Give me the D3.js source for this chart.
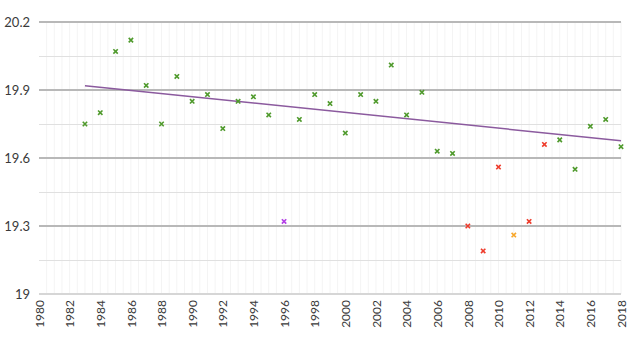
<!DOCTYPE html>
<html><head><meta charset="utf-8">
<script src="https://cdn.jsdelivr.net/npm/d3@7"></script>
<style>body{margin:0;background:#fff;}svg{display:block;font-family:Lato,"Open Sans",sans-serif;}</style>
</head><body><svg id="c" width="640" height="342"></svg>
<script>
const years = [1983,1984,1985,1986,1987,1988,1989,1990,1991,1992,1993,1994,1995,1996,1997,1998,1999,2000,2001,2002,2003,2004,2005,2006,2007,2008,2009,2010,2011,2012,2013,2014,2015,2016,2017,2018];
const values = [19.75,19.80,20.07,20.12,19.92,19.75,19.96,19.85,19.88,19.73,19.85,19.87,19.79,19.32,19.77,19.88,19.84,19.71,19.88,19.85,20.01,19.79,19.89,19.63,19.62,19.30,19.19,19.56,19.26,19.32,19.66,19.68,19.55,19.74,19.77,19.65];
const groups = ["g","g","g","g","g","g","g","g","g","g","g","g","g","p","g","g","g","g","g","g","g","g","g","g","g","r","r","r","o","r","r","g","g","g","g","g"];
const trendYears = [1983, 2018];
const trendValues = [19.919, 19.676];
const yTicks = [19, 19.3, 19.6, 19.9, 20.2];
const xTicks = d3.range(1980, 2019, 2);

const colors = {g:"#4f9a2c", r:"#ee3b2b", o:"#f7a62a", p:"#b23ee6"};
const svg = d3.select("#c");
const L=39, R=621, T=22, B=294;
const x = d3.scaleLinear().domain([1980,2018]).range([L,R]);
const y = d3.scaleLinear().domain([19,20.2]).range([B,T]);

// vertical minor grid
svg.append("g").selectAll("line").data(d3.range(1980.5,2018.01,0.5)).join("line")
  .attr("x1",d=>x(d)).attr("x2",d=>x(d)).attr("y1",T).attr("y2",B)
  .attr("stroke","#f4f4f4").attr("stroke-width",1);
// horizontal minor grid
svg.append("g").selectAll("line").data(d3.range(19.15,20.2,0.3)).join("line")
  .attr("x1",L).attr("x2",R).attr("y1",d=>Math.round(y(d))+0.5).attr("y2",d=>Math.round(y(d))+0.5)
  .attr("stroke","#e0e0e0").attr("stroke-width",1);
// major grid
svg.append("g").selectAll("line").data(yTicks).join("line")
  .attr("x1",L).attr("x2",R).attr("y1",d=>y(d)).attr("y2",d=>y(d))
  .attr("stroke",d=>d===19?"#d6d6d6":"#b8b8b8").attr("stroke-width",2);

// y axis labels
const ya = svg.append("g").attr("transform",`translate(${L},0)`)
  .call(d3.axisLeft(y).tickValues(yTicks).tickSize(0).tickPadding(9).tickFormat(d=>String(d)));
ya.select(".domain").remove();
ya.selectAll("text").attr("font-family","Lato, sans-serif").attr("font-size",13).attr("fill","#3a3a3a");

// x axis labels
const xa = svg.append("g").attr("transform",`translate(0,${B})`)
  .call(d3.axisBottom(x).tickValues(xTicks).tickSize(0).tickFormat(d=>String(d)));
xa.select(".domain").remove();
xa.selectAll("text").attr("font-family","Lato, sans-serif").attr("font-size",12).attr("fill","#3a3a3a")
  .attr("transform","rotate(-90)").attr("text-anchor","end").attr("x",-6).attr("y",0).attr("dy","0.35em");

// trend line
svg.append("line").attr("x1",x(trendYears[0])).attr("y1",y(trendValues[0]))
  .attr("x2",x(trendYears[1])).attr("y2",y(trendValues[1]))
  .attr("stroke","#8b5a9e").attr("stroke-width",1.5);

// markers
const s=2.2;
const pts = svg.append("g").selectAll("g").data(years.map((d,i)=>({yr:d,v:values[i],g:groups[i]}))).join("g")
  .attr("transform",d=>`translate(${x(d.yr)},${y(d.v)})`);
pts.append("path").attr("d",`M${-s},${-s}L${s},${s}M${-s},${s}L${s},${-s}`)
  .attr("stroke",d=>colors[d.g]).attr("stroke-width",1.6).attr("fill","none");
</script></body></html>
